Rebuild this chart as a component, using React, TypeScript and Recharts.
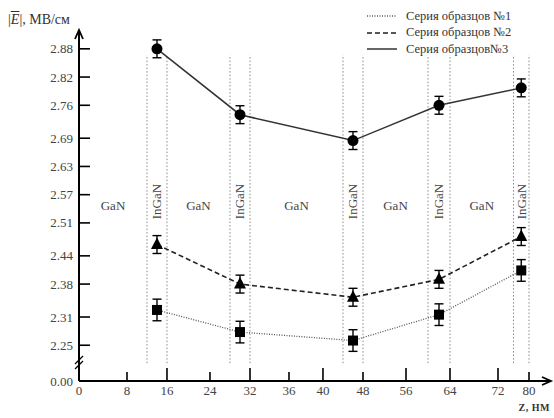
import React from 'react';
import {
  ComposedChart,
  Line,
  XAxis,
  YAxis,
  ErrorBar,
  ReferenceLine,
  ReferenceArea,
} from 'recharts';

// ── Data ──────────────────────────────────────────────────────────────────────

// InGaN well centres, nm
const zNm = [14, 30, 46, 62, 78];

// |E|, MV/cm for the three sample series
const series1 = [2.325, 2.278, 2.26, 2.315, 2.409];
const series2 = [2.464, 2.38, 2.352, 2.39, 2.481];
const series3 = [2.88, 2.74, 2.685, 2.76, 2.797];

const err1 = [0.023, 0.023, 0.023, 0.023, 0.023];
const err2 = [0.019, 0.019, 0.019, 0.019, 0.019];
const err3 = [0.019, 0.019, 0.019, 0.019, 0.019];

const seriesNames = ['Серия образцов №1', 'Серия образцов №2', 'Серия образцов№3'];

// x axis of the original is hand drawn: the labels are not evenly spaced,
// so each labelled stop carries its share of the axis length
const xTicks = [0, 8, 16, 24, 32, 36, 40, 48, 56, 64, 72, 80];
const xTickShare = [0, 0.1017, 0.1864, 0.2775, 0.3623, 0.4449, 0.5169, 0.6017, 0.6928, 0.786, 0.8877, 0.9534];
const xEnd = 84;

const yTicks = [2.25, 2.31, 2.38, 2.44, 2.51, 2.57, 2.63, 2.69, 2.76, 2.82, 2.88];
const yBreak = 2.174; // broken axis: this level is labelled 0.00
const yBreakLabel = '0.00';
const yTop = 2.92;

const wells = [[12, 16], [28, 32], [44, 48], [60, 64], [76, 80]];
const barriers = [[0, 12], [16, 28], [32, 44], [48, 60], [64, 76]];
const wellLineSpan = [2.212, 2.867];

const rows = zNm.map((z, i) => ({
  z,
  s1: series1[i], e1: err1[i],
  s2: series2[i], e2: err2[i],
  s3: series3[i], e3: err3[i],
}));

// ── Styles ────────────────────────────────────────────────────────────────────

const serif = "'Liberation Serif', Tinos, serif";
const labelGrey = '#444';
const majorXTicks = [16, 32, 40, 56, 64, 72];

// ── Piecewise axis scale (d3-like) ───────────────────────────────────────────

function makeStopScale(stops: number[], shares: number[], dom?: number[], rng?: number[]): any {
  let domain = dom ?? [stops[0], stops[stops.length - 1]];
  let range = rng ?? [0, 1];
  const s: any = (v: number) => {
    let i = 0;
    while (i < stops.length - 2 && v > stops[i + 1]) i++;
    const t = shares[i] + ((v - stops[i]) / (stops[i + 1] - stops[i])) * (shares[i + 1] - shares[i]);
    return range[0] + t * (range[1] - range[0]);
  };
  s.domain = (d?: number[]) => (d ? ((domain = [...d]), s) : domain);
  s.range = (r?: number[]) => (r ? ((range = [...r]), s) : range);
  s.copy = () => makeStopScale(stops, shares, domain, range);
  s.ticks = () => stops;
  s.tickFormat = () => (v: number) => String(v);
  s.invert = (px: number) => {
    const t = (px - range[0]) / (range[1] - range[0]);
    let i = 0;
    while (i < shares.length - 2 && t > shares[i + 1]) i++;
    return stops[i] + ((t - shares[i]) / (shares[i + 1] - shares[i])) * (stops[i + 1] - stops[i]);
  };
  s.clamp = () => s;
  s.nice = () => s;
  return s;
}

const xScale = makeStopScale([...xTicks, xEnd], [...xTickShare, 1]);

// ── Ticks ─────────────────────────────────────────────────────────────────────

function XTick({ x, y, payload }: any) {
  const v = payload.value;
  if (v === xEnd) {
    return (
      <polyline points={`${x - 9},${y - 4} ${x},${y} ${x - 9},${y + 4}`}
        fill="none" stroke="#000" strokeWidth={1.8} />
    );
  }
  const len = majorXTicks.includes(v) ? 13 : 9;
  return (
    <g>
      <line x1={x} x2={x} y1={y} y2={y - len} stroke="#000" strokeWidth={1.6} />
      <text x={x} y={y + 14} textAnchor="middle" fontFamily={serif} fontSize={13} fill={labelGrey}>
        {v}
      </text>
    </g>
  );
}

function YTick({ x, y, payload }: any) {
  const v = payload.value;
  if (v === yTop) {
    return (
      <polyline points={`${x - 4},${y + 9} ${x},${y} ${x + 4},${y + 9}`}
        fill="none" stroke="#000" strokeWidth={1.8} />
    );
  }
  if (v === yBreak) {
    return (
      <g>
        <line x1={x - 4} y1={y - 12} x2={x + 4} y2={y - 20} stroke="#000" strokeWidth={1.3} />
        <line x1={x - 4} y1={y - 17} x2={x + 4} y2={y - 25} stroke="#000" strokeWidth={1.3} />
        <text x={x - 6} y={y} textAnchor="end" dominantBaseline="central"
          fontFamily={serif} fontSize={13} fill={labelGrey}>{yBreakLabel}</text>
      </g>
    );
  }
  return (
    <g>
      <line x1={x} x2={x + 11} y1={y} y2={y} stroke="#000" strokeWidth={1.6} />
      <text x={x - 6} y={y} textAnchor="end" dominantBaseline="central"
        fontFamily={serif} fontSize={13} fill={labelGrey}>{v.toFixed(2)}</text>
    </g>
  );
}

// ── Markers ───────────────────────────────────────────────────────────────────

const squareDot = (p: any) => (
  <rect key={`sq-${p.index}`} x={p.cx - 5} y={p.cy - 5} width={10} height={10} fill="#000" />
);
const triangleDot = (p: any) => (
  <polygon key={`tr-${p.index}`}
    points={`${p.cx},${p.cy - 7} ${p.cx + 6},${p.cy + 4.5} ${p.cx - 6},${p.cy + 4.5}`} fill="#000" />
);
const circleDot = (p: any) => (
  <circle key={`ci-${p.index}`} cx={p.cx} cy={p.cy} r={5.5} fill="#000" />
);

function InGaNLabel(props: any) {
  const vb = props.viewBox;
  const cx = vb.x + vb.width / 2;
  const cy = vb.y + vb.height / 2 - 4;
  return (
    <text x={cx} y={cy} transform={`rotate(-90 ${cx} ${cy})`} textAnchor="middle"
      dominantBaseline="central" fontFamily={serif} fontSize={13} fill={labelGrey}>InGaN</text>
  );
}

// ── Legend / titles (HTML) ────────────────────────────────────────────────────

const legendStrokes = [
  { dash: '1 1.5', width: 1.3, color: '#555' },
  { dash: '5 3', width: 1.6, color: '#222' },
  { dash: undefined, width: 1.5, color: '#333' },
];

function LegendBox() {
  return (
    <div style={{ position: 'absolute', left: 366, top: 8, fontFamily: serif, fontSize: 12.5, color: '#333' }}>
      {seriesNames.map((name, i) => (
        <div key={name} style={{ display: 'flex', alignItems: 'center', height: 16.5 }}>
          <svg width={32} height={8} style={{ marginRight: 8 }}>
            <line x1={1} x2={31} y1={4} y2={4} stroke={legendStrokes[i].color}
              strokeWidth={legendStrokes[i].width} strokeDasharray={legendStrokes[i].dash} />
          </svg>
          <span>{name}</span>
        </div>
      ))}
    </div>
  );
}

export default function App() {
  return (
    <div style={{ position: 'absolute', left: 0, top: 0, width: 554, height: 418, background: '#fff' }}>
      <ComposedChart width={554} height={418} data={rows}
        margin={{ top: 30, right: 3, bottom: 0, left: 0 }}>
        <XAxis dataKey="z" type="number" scale={xScale} domain={[0, xEnd]}
          ticks={[...xTicks, xEnd]} interval={0} tick={<XTick />}
          tickSize={0} tickMargin={0} height={37}
          axisLine={{ stroke: '#000', strokeWidth: 2 }} tickLine={false} />
        <YAxis type="number" domain={[yBreak, yTop]} ticks={[yBreak, ...yTicks, yTop]}
          interval={0} tick={<YTick />} tickSize={0} tickMargin={0} width={79}
          axisLine={{ stroke: '#000', strokeWidth: 2 }} tickLine={false} />

        {barriers.map(([a, b]) => (
          <ReferenceArea key={`gan-${a}`} x1={a} x2={b} fill="none" stroke="none"
            label={{ value: 'GaN', position: 'center', fill: labelGrey, fontSize: 13, fontFamily: serif }} />
        ))}
        {wells.map(([a, b]) => (
          <ReferenceArea key={`ingan-${a}`} x1={a} x2={b} fill="none" stroke="none"
            label={(p: any) => <InGaNLabel key={`l-${a}`} {...p} />} />
        ))}
        {wells.flat().map(b => (
          <ReferenceLine key={`wl-${b}`}
            segment={[{ x: b, y: wellLineSpan[0] }, { x: b, y: wellLineSpan[1] }]}
            stroke="#888" strokeWidth={1} strokeDasharray="1.5 2" />
        ))}

        <Line dataKey="s1" stroke="#555" strokeWidth={1.3} strokeDasharray="1 1.5"
          dot={squareDot} activeDot={false} isAnimationActive={false}>
          <ErrorBar dataKey="e1" direction="y" width={4.5} stroke="#000" strokeWidth={1.4} isAnimationActive={false} />
        </Line>
        <Line dataKey="s2" stroke="#222" strokeWidth={1.6} strokeDasharray="5 3"
          dot={triangleDot} activeDot={false} isAnimationActive={false}>
          <ErrorBar dataKey="e2" direction="y" width={4.5} stroke="#000" strokeWidth={1.4} isAnimationActive={false} />
        </Line>
        <Line dataKey="s3" stroke="#333" strokeWidth={1.5}
          dot={circleDot} activeDot={false} isAnimationActive={false}>
          <ErrorBar dataKey="e3" direction="y" width={4.5} stroke="#000" strokeWidth={1.4} isAnimationActive={false} />
        </Line>
      </ComposedChart>

      <div style={{ position: 'absolute', left: 8, top: 12, fontFamily: serif, fontSize: 14, color: '#333' }}>
        |<span style={{ fontStyle: 'italic', textDecoration: 'overline' }}>E</span>|, МВ/см
      </div>
      <LegendBox />
      <div style={{ position: 'absolute', right: 4, top: 402, fontFamily: serif, fontSize: 10,
        fontWeight: 'bold', color: '#333', letterSpacing: 0.5 }}>
        Z, НМ
      </div>
    </div>
  );
}
